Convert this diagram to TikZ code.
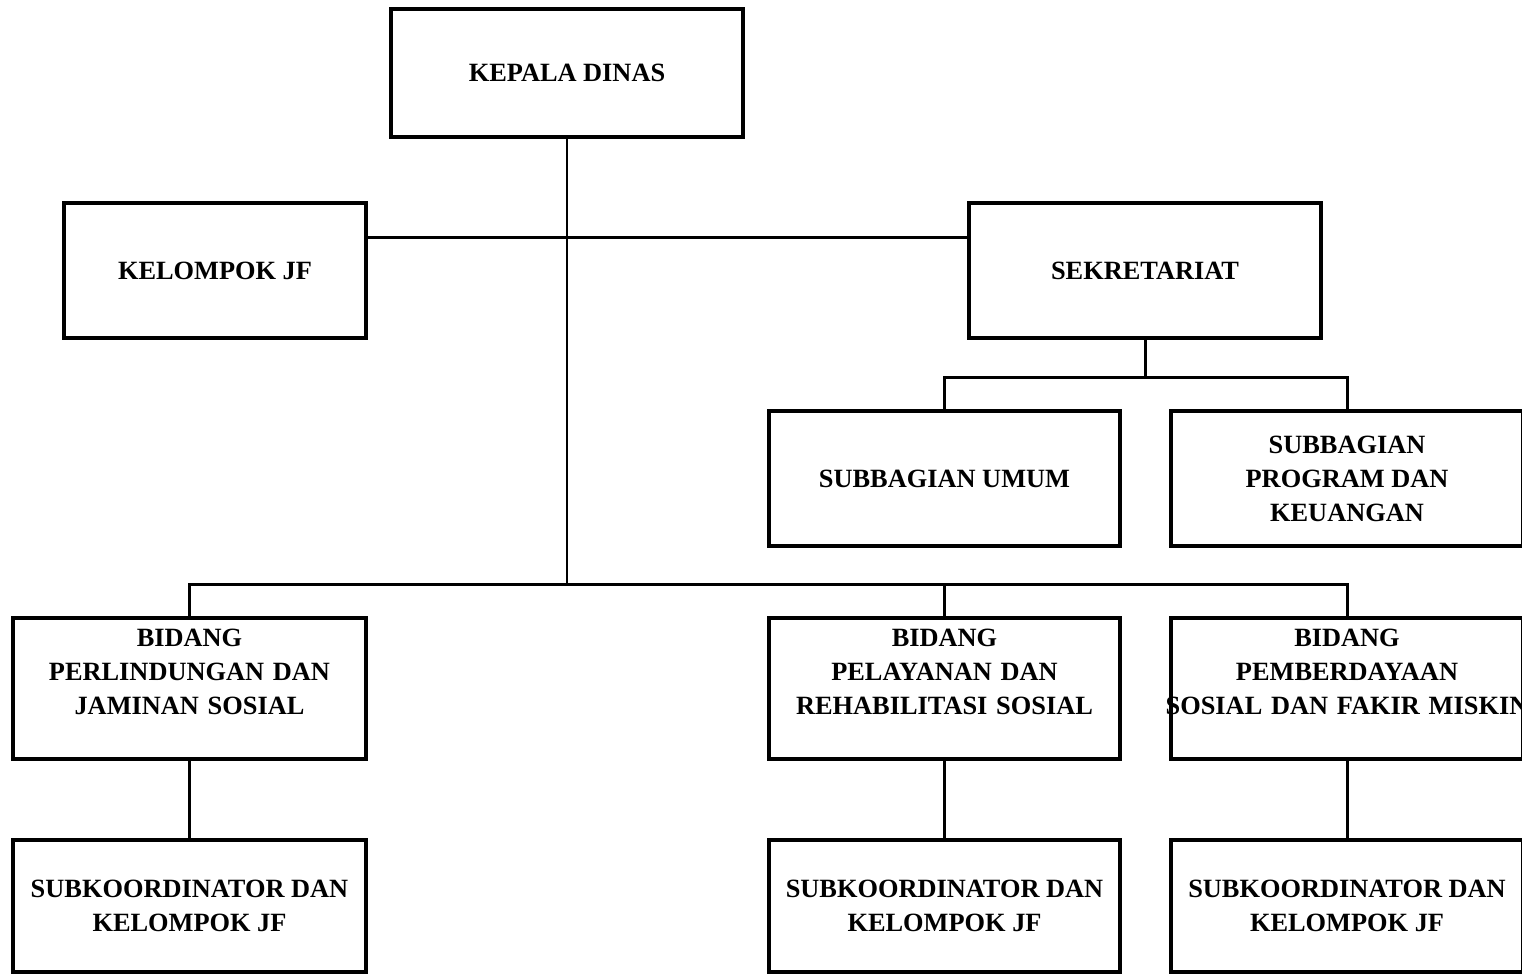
\documentclass[tikz,border=0pt]{standalone}
\usepackage{fontspec}
\setmainfont{Liberation Serif}
\begin{document}
\begin{tikzpicture}[x=0.02cm, y=-0.02cm, line width=1.7pt,
  every node/.style = {shape=rectangle, draw, align=center, line width=2.1pt,
    font=\bfseries\fontsize{15}{19.35}\selectfont, inner sep=0pt},
  box/.style = {minimum width=#1*0.02cm},
  tall/.style = {minimum height=#1*0.02cm}]
  \useasboundingbox (0,0) rectangle (1522,975);
  \node[box=352, tall=128] (kd) at (567,73) {KEPALA DINAS};
  \node[box=302, tall=135] (jf) at (215,270.5) {KELOMPOK JF};
  \node[box=352, tall=135] (sek) at (1145,270.5) {SEKRETARIAT};
  \node[box=351, tall=135] (s1) at (944.5,478.5) {SUBBAGIAN UMUM};
  \node[box=352, tall=135] (s2) at (1347,478.5) {SUBBAGIAN\\PROGRAM DAN\\KEUANGAN};
  \node[box=353, tall=141, text width=6.6cm] (b1) at (189.5,688.5)
    {BIDANG\\PERLINDUNGAN DAN\\JAMINAN SOSIAL\\\mbox{}};
  \node[box=351, tall=141, text width=6.6cm] (b2) at (944.5,688.5)
    {BIDANG\\PELAYANAN DAN\\REHABILITASI SOSIAL\\\mbox{}};
  \node[box=352, tall=141, text width=6.6cm] (b3) at (1347,688.5)
    {BIDANG\\PEMBERDAYAAN\\\makebox[\linewidth][c]{SOSIAL DAN FAKIR MISKIN}\\\mbox{}};
  \node[box=353, tall=132] (k1) at (189.5,906) {SUBKOORDINATOR DAN\\KELOMPOK JF};
  \node[box=351, tall=132] (k2) at (944.5,906) {SUBKOORDINATOR DAN\\KELOMPOK JF};
  \node[box=352, tall=132] (k3) at (1347,906) {SUBKOORDINATOR DAN\\KELOMPOK JF};
  \coordinate (c0) at (567,237);
  \coordinate (c1) at (567,584);
  \coordinate (c2) at (1145,377);
  \draw (kd.south) -- (c1);
  \draw (jf.east |- c0) -- (sek.west |- c0);
  \draw (c1) -| (b1.north);
  \draw (c1) -| (b2.north);
  \draw (c1) -| (b3.north);
  \draw (sek.south) -- (c2);
  \draw (c2) -| (s1.north);
  \draw (c2) -| (s2.north);
  \draw (b1.south) -- (k1.north);
  \draw (b2.south) -- (k2.north);
  \draw (b3.south) -- (k3.north);
\end{tikzpicture}
\end{document}
